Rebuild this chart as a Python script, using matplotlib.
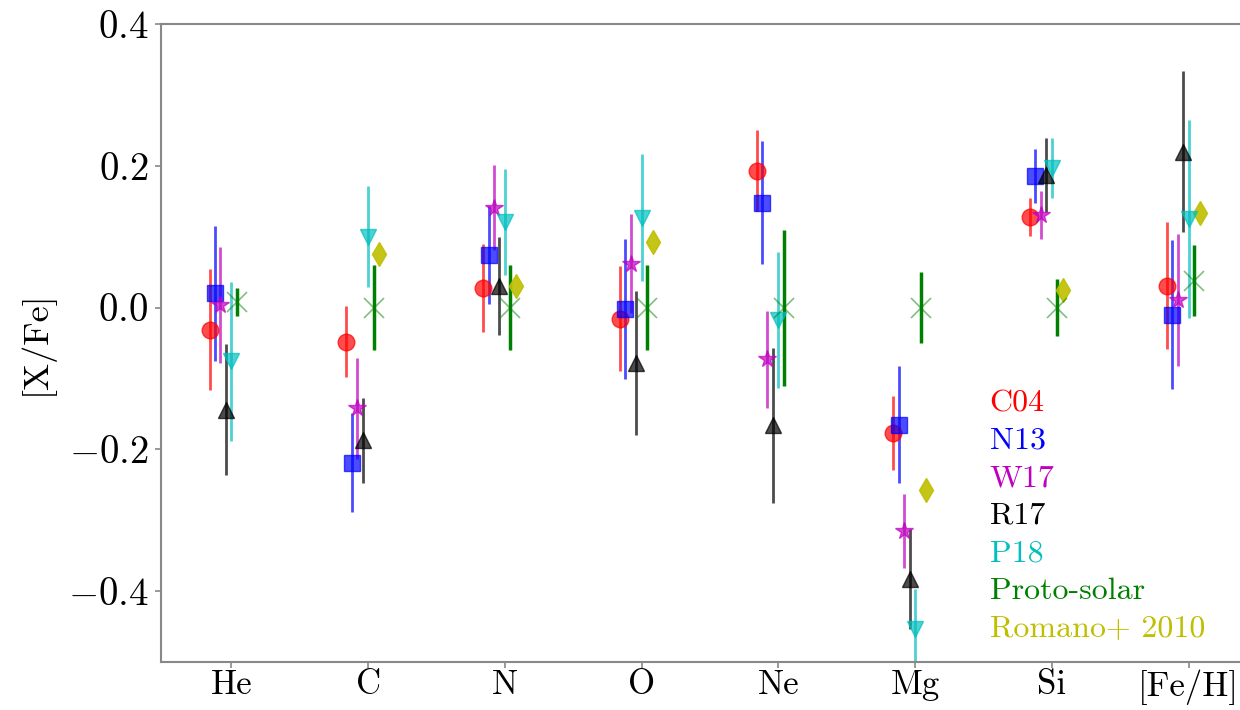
import numpy as np
import matplotlib
matplotlib.use("Agg")
import matplotlib.pyplot as plt

plt.rcParams["font.family"] = ["cmr10", "DejaVu Serif"]
plt.rcParams["mathtext.fontset"] = "cm"
plt.rcParams["axes.formatter.use_mathtext"] = True

elements = ["He", "C", "N", "O", "Ne", "Mg", "Si", "[Fe/H]"]

# abundance ratios and 1-sigma errors per study
c04 = [-0.031, -0.048, 0.027, -0.016, 0.193, -0.177, 0.128, 0.031]
c04_err = [0.085, 0.050, 0.062, 0.074, 0.057, 0.052, 0.027, 0.090]
n13 = [0.020, -0.219, 0.074, -0.002, 0.148, -0.165, 0.186, -0.010]
n13_err = [0.095, 0.070, 0.069, 0.099, 0.087, 0.082, 0.038, 0.105]
w17 = [0.004, -0.142, 0.141, 0.062, -0.073, -0.315, 0.131, 0.011]
w17_err = [0.082, 0.071, 0.060, 0.070, 0.068, 0.052, 0.034, 0.093]
r17 = [-0.144, -0.187, 0.030, -0.078, -0.166, -0.383, 0.187, 0.220]
r17_err = [0.092, 0.060, 0.069, 0.102, 0.109, 0.070, 0.052, 0.113]
p18 = [-0.076, 0.100, 0.121, 0.127, -0.017, -0.454, 0.197, 0.125]
p18_err = [0.112, 0.071, 0.075, 0.090, 0.096, 0.057, 0.042, 0.140]
proto = [0.008, 0.0, 0.0, 0.0, 0.0, 0.0, 0.0, 0.038]
proto_err = [0.020, 0.060, 0.060, 0.060, 0.110, 0.050, 0.040, 0.050]
romano = [np.nan, 0.075, 0.031, 0.092, np.nan, -0.257, 0.025, 0.133]

labels = ["C04", "N13", "W17", "R17", "P18", "Proto-solar", "Romano+ 2010"]
colors = ["r", "b", "m", "k", "c", "g", "y"]

x = np.arange(len(elements))

fig = plt.figure(figsize=(12.4, 7.1), dpi=100)
ax = fig.add_axes([161 / 1240, 48 / 710, 1096 / 1240, 638 / 710])

series = [(c04, c04_err, "o", 12), (n13, n13_err, "s", 11), (w17, w17_err, "*", 13),
          (r17, r17_err, "^", 12), (p18, p18_err, "v", 12)]
for i, (vals, errs, mk, ms) in enumerate(series):
    ax.errorbar(x - 0.16 + 0.04 * i, vals, yerr=errs, fmt=mk, ms=ms, color=colors[i],
                elinewidth=2, capsize=0, alpha=0.7)

eb = ax.errorbar(x + 0.04, proto, yerr=proto_err, fmt="x", ms=15, mew=1.2, color="g",
                 elinewidth=2.5, capsize=0)
eb[0].set_alpha(0.5)
ax.plot(x + 0.08, romano, "d", ms=12, color="y", alpha=0.9, linestyle="none")

for i, (name, c) in enumerate(zip(labels, colors)):
    ax.text(0.756, 0.405 - i * 0.0588, name, color=c, fontsize=23, va="center",
            transform=ax.transAxes)

ax.set_xlim(-0.515, 7.5)
ax.set_ylim(-0.5, 0.4)
ax.set_xticks(x)
ax.set_xticklabels(elements)
ax.set_yticks([-0.4, -0.2, 0.0, 0.2, 0.4])
ax.set_ylabel("[X/Fe]", fontsize=26, labelpad=10)
ax.tick_params(color="#888888", length=4, width=1.2)
ax.tick_params(axis="y", labelsize=28, pad=5)
ax.tick_params(axis="x", labelsize=25, pad=1.5)
for s in ax.spines.values():
    s.set_color("#888888")
    s.set_linewidth(1.5)

fig.savefig("out.png", dpi=100)
